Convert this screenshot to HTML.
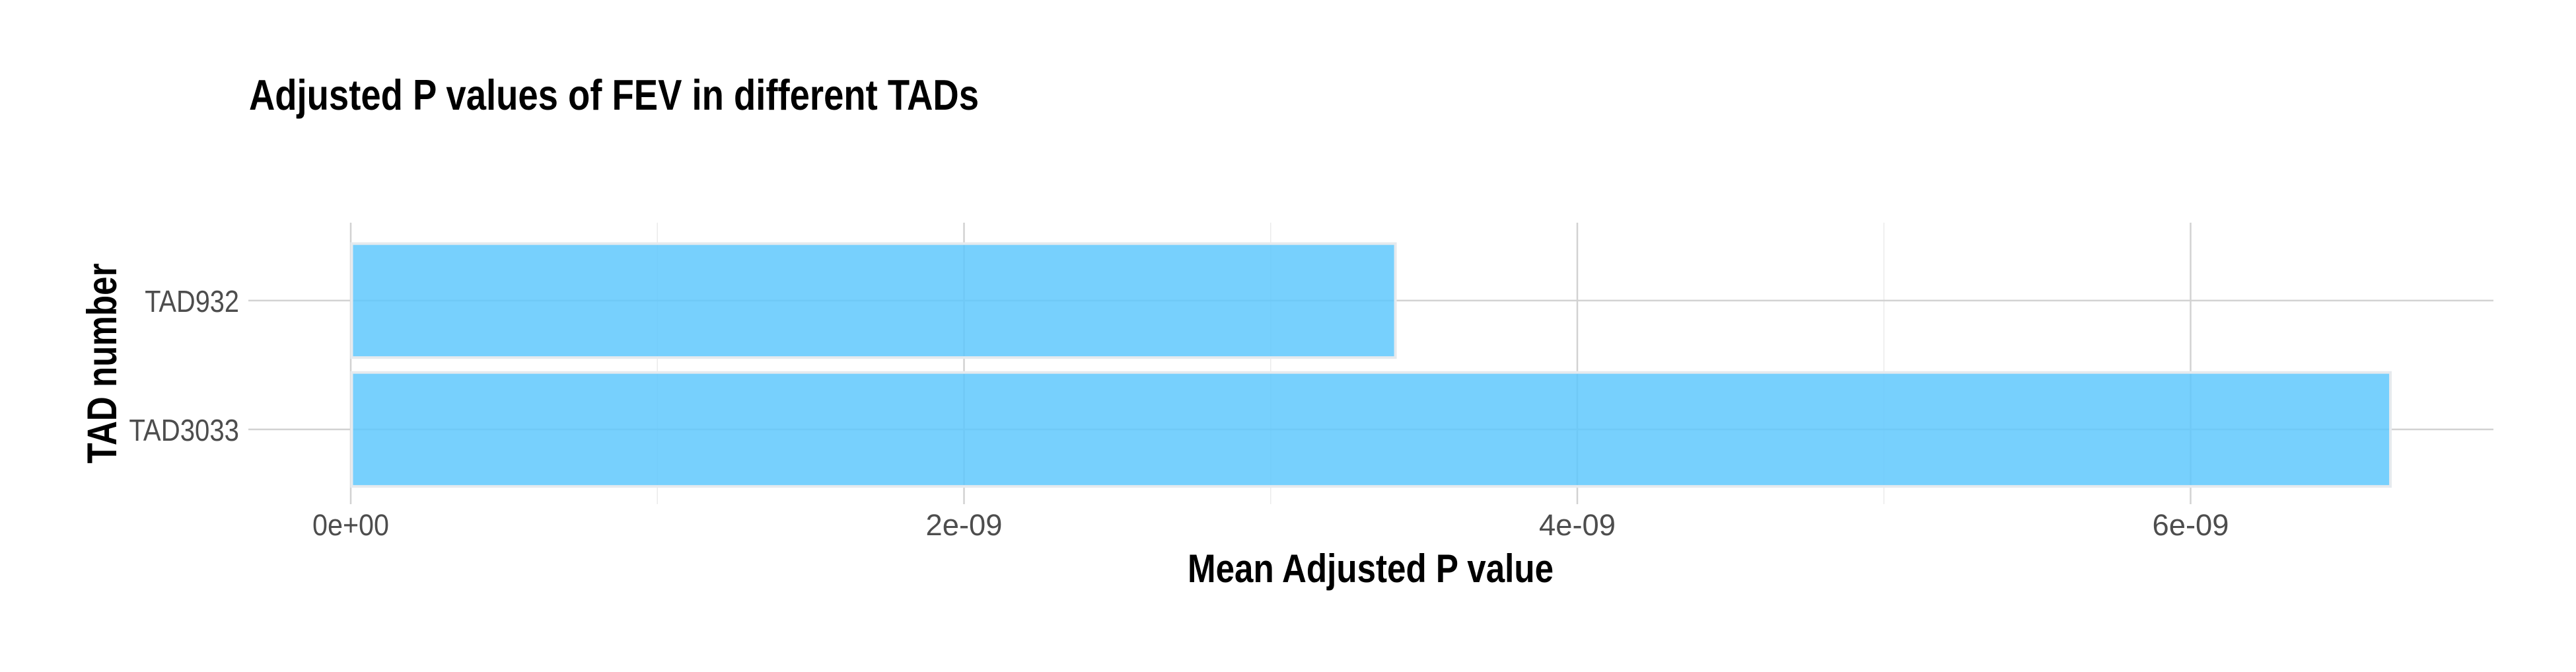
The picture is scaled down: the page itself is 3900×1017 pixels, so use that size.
<!DOCTYPE html>
<html><head><meta charset="utf-8"><style>html,body{margin:0;padding:0;background:#fff}svg{display:block}</style></head>
<body>
<svg id="chart" width="3900" height="1017" viewBox="0 0 3900 1017" xmlns="http://www.w3.org/2000/svg" font-family="Liberation Sans, Arial, sans-serif">
<rect width="3900" height="1017" fill="#fff"/>
<g id="grid"></g>
<g id="bars"></g>
<g id="labels"></g>
<text x="377" y="166" font-size="65" font-weight="bold" fill="#000" textLength="1105" lengthAdjust="spacingAndGlyphs">Adjusted P values of FEV in different TADs</text>
<text x="1798" y="881" font-size="60" font-weight="bold" fill="#000" textLength="554" lengthAdjust="spacingAndGlyphs">Mean Adjusted P value</text>
<text transform="translate(176,550) rotate(-90)" text-anchor="middle" font-size="63" font-weight="bold" fill="#000" textLength="303" lengthAdjust="spacingAndGlyphs">TAD number</text>
</svg>
<script>
const categories = ["TAD3033", "TAD932"];
const values = [6.655e-9, 3.41e-9];
const xTicks = [0, 2e-9, 4e-9, 6e-9];
const xTickLabels = ["0e+00", "2e-09", "4e-09", "6e-09"];
const xMinor = [1e-9, 3e-9, 5e-9, 7e-9];

const NS = "http://www.w3.org/2000/svg";
const panel = {left: 376, right: 3775, top: 337, bottom: 763};
const x = v => 531 + v / 2e-9 * 928.5;
const band = 195;
const y = i => panel.bottom - band * 0.58 - i * band;  // category center
function mk(tag, attrs, parent) {
  const el = document.createElementNS(NS, tag);
  for (const k in attrs) el.setAttribute(k, attrs[k]);
  parent.appendChild(el);
  return el;
}
const grid = document.getElementById("grid");
const bars = document.getElementById("bars");
const labels = document.getElementById("labels");
xMinor.forEach(v => {
  if (x(v) > panel.right) return;
  const l = mk("line", {x1: x(v), x2: x(v), y1: panel.top, y2: panel.bottom, stroke: "#ebebeb", "stroke-width": 1.5}, grid);
  
  
});
xTicks.forEach((v, i) => {
  const l = mk("line", {x1: x(v), x2: x(v), y1: panel.top, y2: panel.bottom, stroke: "#d2d2d2", "stroke-width": 2.5}, grid);
  
  
  const t = mk("text", {x: x(v), y: 810, "text-anchor": "middle", "font-size": 45, fill: "#4d4d4d", textLength: 116, lengthAdjust: "spacingAndGlyphs"}, labels);
  t.textContent = xTickLabels[i];
  
  
});
categories.forEach((c, i) => {
  const cy = y(i);
  const l = mk("line", {x1: panel.left, x2: panel.right, y1: cy, y2: cy, stroke: "#d2d2d2", "stroke-width": 2.5}, grid);
  
  
  const h = band * 0.9;
  const r = mk("rect", {x: x(0) + 1.5, y: cy - h / 2 + 1.5, width: x(values[i]) - x(0) - 3, height: h - 3, fill: "#5bc6fc", "fill-opacity": 0.83, stroke: "#e6eaee", "stroke-width": 4}, bars);
  
  
  const t = mk("text", {x: 362, y: cy + 17, "text-anchor": "end", "font-size": 46, fill: "#4d4d4d", textLength: c.length * 23.8, lengthAdjust: "spacingAndGlyphs"}, labels);
  t.textContent = c;
  
  
});
</script>
</body></html>
